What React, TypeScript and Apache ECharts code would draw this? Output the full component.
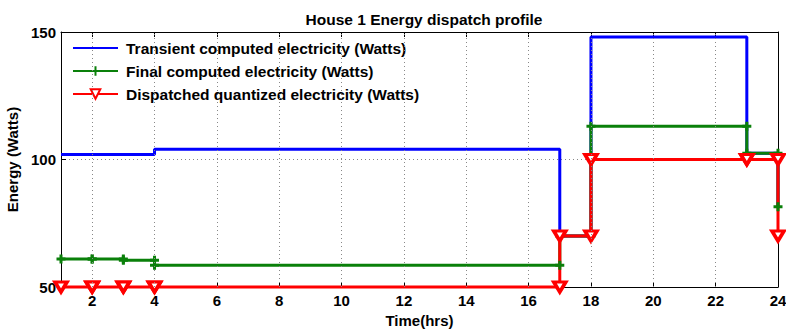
import React, { useEffect, useRef } from "react";
import * as echarts from "echarts";

const hours = [1, 2, 3, 4, 17, 18, 23, 24];
const transient = [102, 102, 102, 104, 70, 148, 102.5, 81.5];
const finalComputed = [61, 61, 60.5, 58.5, 70, 113, 102.5, 81.5];
const dispatched = [50, 50, 50, 50, 70, 100, 100, 70];
const xTicks = [2, 4, 6, 8, 10, 12, 14, 16, 18, 20, 22, 24];
const xGrid = [2, 4, 6, 8, 10, 12, 14, 16, 18, 20, 22];
const seriesNames = [
  "Transient computed electricity (Watts)",
  "Final computed electricity (Watts)",
  "Dispatched quantized electricity (Watts)",
];

function stairs(xs: number[], ys: number[]) {
  const pts: number[][] = [];
  for (let i = 0; i < xs.length; i++) {
    pts.push([xs[i], ys[i]]);
    if (i < xs.length - 1) pts.push([xs[i + 1], ys[i]]);
  }
  return pts;
}

const FONT = "'Liberation Sans', Arial, sans-serif";
const PLUS = "path://M5,0L5,10M0,5L10,5";
const TRI = "path://M0,0L10,0L5,9Z";

export default function App() {
  const ref = useRef<HTMLDivElement>(null);
  useEffect(() => {
    if (!ref.current) return;
    const chart = echarts.init(ref.current, undefined, { renderer: "svg" });
    const labelStyle = { color: "#000", fontWeight: "bold" as const, fontSize: 15, fontFamily: FONT };
    chart.setOption({
      animation: false,
      backgroundColor: "#fff",
      title: {
        text: "House 1 Energy dispatch profile",
        left: 419,
        textAlign: "center",
        top: 6,
        textStyle: { color: "#000", fontWeight: "bold", fontSize: 15.5, fontFamily: FONT },
      },
      grid: { left: 61, right: 8, top: 32, bottom: 45, outerBoundsMode: "none", containLabel: false },
      legend: {
        data: [
          {
            name: seriesNames[0],
            itemStyle: { color: "rgba(0,0,0,0)", borderColor: "rgba(0,0,0,0)", borderWidth: 0 },
          },
          { name: seriesNames[1] },
          { name: seriesNames[2], itemStyle: { borderWidth: 2 } },
        ],
        orient: "vertical",
        left: 72,
        top: 40,
        padding: 0,
        itemWidth: 45,
        itemHeight: 12,
        itemGap: 7,
        align: "left",
        textStyle: { ...labelStyle, fontSize: 15.5, lineHeight: 16, padding: [0, 0, 0, 3] },
      },
      xAxis: [
        {
          type: "value",
          min: 1,
          max: 24,
          name: "Time(hrs)",
          nameLocation: "middle",
          nameGap: 25,
          nameTextStyle: labelStyle,
          axisLine: { show: true, lineStyle: { color: "#000", width: 1 } },
          axisTick: { show: true, inside: true, length: 5, customValues: xTicks, lineStyle: { color: "#000" } },
          axisLabel: { ...labelStyle, margin: 6, customValues: xTicks },
          splitLine: { show: false },
        },
        {
          type: "value",
          min: 1,
          max: 24,
          position: "top",
          axisLine: { show: true, lineStyle: { color: "#000", width: 1 } },
          axisTick: { show: true, inside: true, length: 5, customValues: xTicks, lineStyle: { color: "#000" } },
          axisLabel: { show: false },
          splitLine: { show: false },
        },
      ],
      yAxis: [
        {
          type: "value",
          min: 50,
          max: 150,
          interval: 50,
          name: "Energy (Watts)",
          nameLocation: "middle",
          nameGap: 40,
          nameTextStyle: labelStyle,
          axisLine: { show: true, lineStyle: { color: "#000", width: 1 } },
          axisTick: { show: true, inside: true, length: 5, lineStyle: { color: "#000" } },
          axisLabel: { ...labelStyle, margin: 5 },
          splitLine: { show: true, lineStyle: { color: "#888", type: [1, 3], width: 1 } },
        },
        {
          type: "value",
          min: 50,
          max: 150,
          interval: 50,
          position: "right",
          axisLine: { show: true, lineStyle: { color: "#000", width: 1 } },
          axisTick: { show: true, inside: true, length: 5, lineStyle: { color: "#000" } },
          axisLabel: { show: false },
          splitLine: { show: false },
        },
      ],
      series: [
        {
          type: "line",
          name: "grid",
          data: [],
          z: 1,
          silent: true,
          markLine: {
            silent: true,
            symbol: "none",
            label: { show: false },
            lineStyle: { color: "#888", type: [1, 3], width: 1 },
            data: xGrid.map((v) => ({ xAxis: v })),
          },
        },
        {
          type: "line",
          name: seriesNames[0],
          data: stairs(hours, transient),
          symbol: "none",
          clip: false,
          lineStyle: { color: "#0000ff", width: 3 },
          itemStyle: { color: "#0000ff" },
        },
        {
          type: "line",
          name: seriesNames[1],
          data: stairs(hours, finalComputed),
          symbol: PLUS,
          symbolSize: 9,
          showAllSymbol: true,
          clip: false,
          lineStyle: { color: "#0a800a", width: 3 },
          itemStyle: { color: "#0a800a", borderColor: "#0a800a", borderWidth: 3 },
        },
        {
          type: "line",
          name: seriesNames[2],
          data: stairs(hours, dispatched),
          symbol: TRI,
          symbolSize: [12, 10],
          showAllSymbol: true,
          clip: false,
          lineStyle: { color: "#ff0000", width: 3 },
          itemStyle: { color: "#fff", borderColor: "#ff0000", borderWidth: 3.5 },
        },
      ],
    });
    return () => chart.dispose();
  }, []);
  return <div ref={ref} style={{ width: 786, height: 332, position: "absolute", left: 0, top: 0 }} />;
}
